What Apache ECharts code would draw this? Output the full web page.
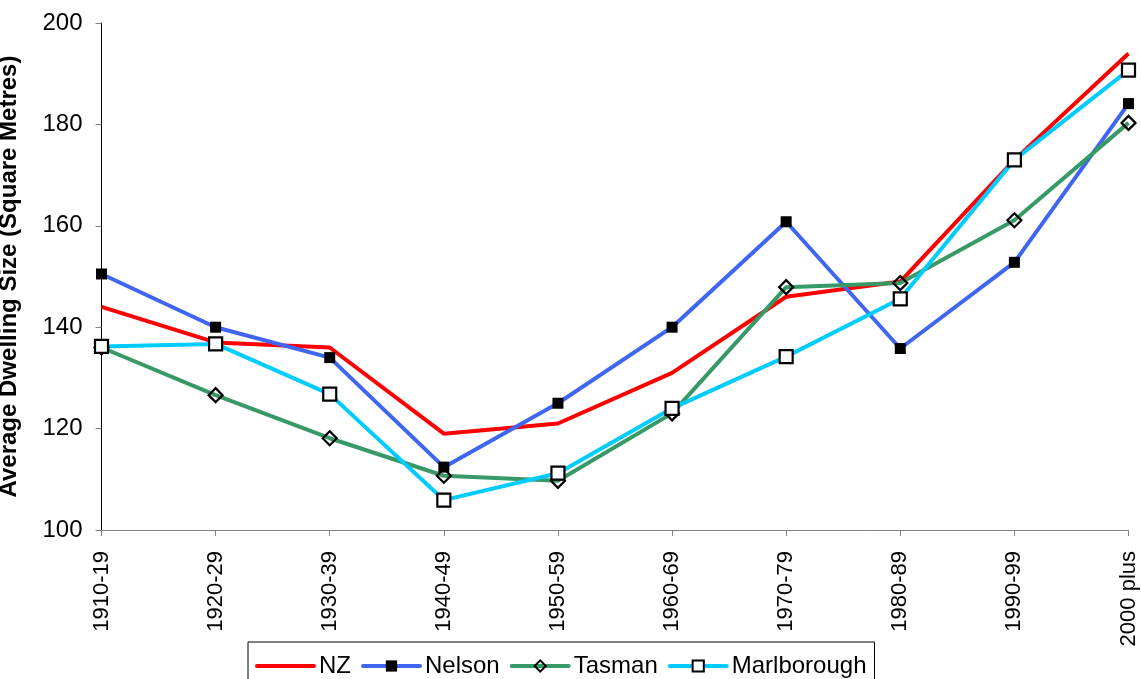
<!DOCTYPE html>
<html>
<head>
<meta charset="utf-8">
<script src="https://cdn.jsdelivr.net/npm/echarts@6/dist/echarts.min.js"></script>
<style>
  html, body { margin: 0; padding: 0; background: #fff; }
  #chart { width: 1141px; height: 679px; }
</style>
</head>
<body>
<div id="chart"></div>
<script>
// Decades of construction
const categories = ['1910-19', '1920-29', '1930-39', '1940-49', '1950-59', '1960-69', '1970-79', '1980-89', '1990-99', '2000 plus'];

// Average dwelling size (square metres) by region
const nz          = [144, 137, 136, 119, 121, 131, 146, 149, 173, 194];
const nelson      = [150.5, 140, 134, 112.4, 125, 140, 160.8, 135.8, 152.8, 184.1];
const tasman      = [136, 126.6, 118.1, 110.7, 109.7, 123, 147.9, 148.7, 161.1, 180.3];
const marlborough = [136.2, 136.7, 126.8, 105.9, 111.2, 124, 134.2, 145.6, 173, 190.7];

const FONT = 'Liberation Sans, Arial, sans-serif';

const chart = echarts.init(document.getElementById('chart'), null, { renderer: 'canvas' });

function lineSeries(name, data, color, symbol, size, fill, border) {
  return {
    name: name,
    type: 'line',
    data: data,
    symbol: symbol,
    symbolSize: size,
    showSymbol: symbol !== 'none',
    lineStyle: { color: color, width: 4 },
    itemStyle: { color: fill, borderColor: border, borderWidth: border ? 2.2 : 0 },
    emphasis: { disabled: true },
    animation: false
  };
}

chart.setOption({
  backgroundColor: '#fff',
  textStyle: { fontFamily: FONT },
  grid: { left: 101.5, right: 12.5, top: 23, bottom: 149, containLabel: false, outerBoundsMode: 'none' },
  legend: {
    left: 248,
    top: 642,
    padding: [12, 8, 20, 7],
    itemGap: 10,
    itemWidth: 57,
    itemHeight: 14,
    borderColor: '#000',
    borderWidth: 1,
    lineStyle: { width: 4, cap: 'round' },
    textStyle: { fontSize: 24, color: '#000', fontFamily: FONT, verticalAlign: 'top', lineHeight: 12 },
    data: [
      { name: 'NZ', itemStyle: { color: 'rgba(0,0,0,0)', borderWidth: 0 } },
      'Nelson', 'Tasman', 'Marlborough'
    ]
  },
  xAxis: {
    type: 'category',
    data: categories,
    boundaryGap: false,
    axisLine: { lineStyle: { color: '#808080', width: 1 } },
    axisTick: { show: true, alignWithLabel: true, length: 6, lineStyle: { color: '#808080' } },
    axisLabel: { rotate: 90, fontSize: 22, color: '#000', margin: 21, fontFamily: FONT, interval: 0 },
    splitLine: { show: false }
  },
  yAxis: {
    type: 'value',
    min: 100,
    max: 200,
    interval: 20,
    name: 'Average Dwelling Size (Square Metres)',
    nameLocation: 'middle',
    nameRotate: 90,
    nameGap: 80,
    nameTextStyle: { fontSize: 24, fontWeight: 'bold', color: '#000', fontFamily: FONT },
    axisLine: { show: true, lineStyle: { color: '#000', width: 1 } },
    axisTick: { show: true, length: 6, lineStyle: { color: '#808080' } },
    axisLabel: { fontSize: 24, color: '#000', margin: 19, fontFamily: FONT },
    splitLine: { show: false }
  },
  series: [
    lineSeries('NZ', nz, '#ff0000', 'none', 0, '#ff0000', null),
    lineSeries('Nelson', nelson, '#3f66f2', 'rect', 11, '#000', null),
    lineSeries('Tasman', tasman, '#379966', 'diamond', 14, 'rgba(255,255,255,0)', '#000'),
    lineSeries('Marlborough', marlborough, '#00ccff', 'rect', 13, '#fff', '#000')
  ]
});
</script>
</body>
</html>
